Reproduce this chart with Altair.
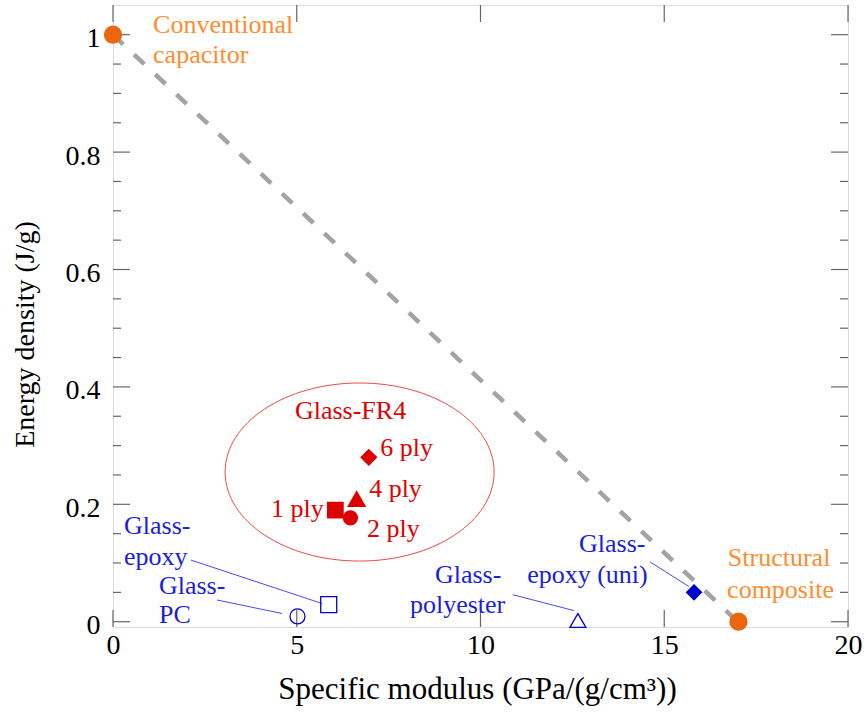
import altair as alt
import pandas as pd

# ---------------- data ----------------
x_ticks = [0, 5, 10, 15, 20]
y_major = [0, 0.2, 0.4, 0.6, 0.8, 1.0]
y_minor = [0.05, 0.1, 0.15, 0.25, 0.3, 0.35, 0.45, 0.5, 0.55, 0.65, 0.7, 0.75, 0.85, 0.9, 0.95]

pt_names = ["Conventional capacitor", "Structural composite",
            "FR4 1 ply", "FR4 2 ply", "FR4 4 ply", "FR4 6 ply",
            "Glass-epoxy", "Glass-PC", "Glass-polyester", "Glass-epoxy (uni)"]
pt_x = [0.0, 17.02, 6.05, 6.46, 6.63, 6.96, 5.87, 5.02, 12.65, 15.81]
pt_y = [1.0, 0.0, 0.19, 0.177, 0.209, 0.28, 0.029, 0.009, 0.002, 0.05]

trend_x = [0.0, 17.0]
trend_y = [1.0, 0.0]

# FR4 group ellipse centre
ell_x = [6.71]
ell_y = [0.255]

# leader lines (from label to marker)
lead_x1 = [2.12, 2.83, 10.88, 14.61]
lead_y1 = [0.105, 0.037, 0.046, 0.102]
lead_x2 = [5.69, 4.60, 12.54, 15.67]
lead_y2 = [0.031, 0.014, 0.019, 0.060]

lab_text = ["Conventional", "capacitor", "Structural", "composite",
            "Glass-FR4", "6 ply", "4 ply", "1 ply", "2 ply",
            "Glass-", "epoxy", "Glass-", "PC",
            "Glass-", "polyester", "Glass-", "epoxy (uni)"]
lab_x = [1.09, 1.09, 16.73, 16.71,
         4.95, 7.27, 6.97, 4.30, 6.91,
         0.30, 0.30, 1.25, 1.25,
         8.76, 8.08, 12.68, 11.27]
lab_y = [1.003, 0.952, 0.095, 0.041,
         0.346, 0.283, 0.213, 0.179, 0.145,
         0.150, 0.097, 0.048, -0.003,
         0.066, 0.015, 0.119, 0.066]
lab_group = ["orange", "orange", "orange", "orange",
             "red", "red", "red", "red", "red",
             "blue", "blue", "blue", "blue",
             "blue", "blue", "blue", "blue"]

# ---------------- styles ----------------
ORANGE_PT = "#EC6510"
ORANGE_TX = "#FF8C2E"
RED = "#DD0000"
RED_TX = "#E00000"
BLUE = "#0000CC"
BLUE_TX = "#1C1CDC"
FONT = "Liberation Serif"

style = {
    "Conventional capacitor": ("circle", ORANGE_PT, ORANGE_PT, 289),
    "Structural composite": ("circle", ORANGE_PT, ORANGE_PT, 289),
    "FR4 1 ply": ("square", RED, RED, 240),
    "FR4 2 ply": ("circle", RED, RED, 196),
    "FR4 4 ply": ("triangle-up", RED, RED, 289),
    "FR4 6 ply": ("diamond", RED, RED, 240),
    "Glass-epoxy": ("square", "transparent", BLUE, 256),
    "Glass-PC": ("circle", "transparent", BLUE, 225),
    "Glass-polyester": ("triangle-up", "transparent", BLUE, 256),
    "Glass-epoxy (uni)": ("diamond", BLUE, BLUE, 225),
}
text_color = {"orange": ORANGE_TX, "red": RED_TX, "blue": BLUE_TX}

pts = pd.DataFrame({"name": pt_names, "x": pt_x, "y": pt_y})
pts["shape"] = [style[n][0] for n in pt_names]
pts["fill"] = [style[n][1] for n in pt_names]
pts["stroke"] = [style[n][2] for n in pt_names]
pts["size"] = [style[n][3] for n in pt_names]

trend = pd.DataFrame({"x": trend_x, "y": trend_y})
ell = pd.DataFrame({"x": ell_x, "y": ell_y})
leads = pd.DataFrame({"x": lead_x1, "y": lead_y1, "x2": lead_x2, "y2": lead_y2})
labs = pd.DataFrame({"text": lab_text, "x": lab_x, "y": lab_y,
                     "color": [text_color[g] for g in lab_group]})

W, H = 735, 622
xs = alt.Scale(domain=[0, 20], nice=False, zero=False)
ys = alt.Scale(domain=[-0.009, 1.0506], nice=False, zero=False)

x_axis = alt.Axis(values=x_ticks, ticks=False, domain=False, grid=False,
                  labelFont=FONT, labelFontSize=28, labelColor="black",
                  labelPadding=4, labelFlush=False, labelOverlap=False,
                  title="Specific modulus (GPa/(g/cm³))", titleFont=FONT,
                  titleFontSize=31, titleFontWeight="normal", titleColor="black",
                  titleX=364, titleY=71, titleBaseline="alphabetic")
y_axis = alt.Axis(values=y_major, format="~g", ticks=False, domain=False, grid=False,
                  labelFont=FONT, labelFontSize=28, labelColor="black",
                  labelPadding=13, labelOffset=4, labelOverlap=False, labelFlush=False,
                  title="Energy density (J/g)", titleFont=FONT,
                  titleFontSize=28, titleFontWeight="normal", titleColor="black",
                  titleX=-80, titleY=329, titleBaseline="alphabetic", titleAngle=270)

X = alt.X("x:Q", scale=xs, axis=x_axis)
Y = alt.Y("y:Q", scale=ys, axis=y_axis)

TICK = "#666666"
ymaj = pd.DataFrame({"y": y_major})
ymin = pd.DataFrame({"y": y_minor})
xt = pd.DataFrame({"x": x_ticks})

tick_layers = [
    alt.Chart(ymaj).mark_rule(color=TICK, strokeWidth=1.2).encode(
        y=alt.Y("y:Q", scale=ys), x=alt.value(0), x2=alt.value(17)),
    alt.Chart(ymaj).mark_rule(color=TICK, strokeWidth=1.2).encode(
        y=alt.Y("y:Q", scale=ys), x=alt.value(W - 17), x2=alt.value(W)),
    alt.Chart(ymin).mark_rule(color=TICK, strokeWidth=1.2).encode(
        y=alt.Y("y:Q", scale=ys), x=alt.value(0), x2=alt.value(8)),
    alt.Chart(ymin).mark_rule(color=TICK, strokeWidth=1.2).encode(
        y=alt.Y("y:Q", scale=ys), x=alt.value(W - 8), x2=alt.value(W)),
    alt.Chart(xt).mark_rule(color=TICK, strokeWidth=1.2).encode(
        x=alt.X("x:Q", scale=xs), y=alt.value(H - 17), y2=alt.value(H)),
    alt.Chart(xt).mark_rule(color=TICK, strokeWidth=1.2).encode(
        x=alt.X("x:Q", scale=xs), y=alt.value(0), y2=alt.value(17)),
]

base_axes = alt.Chart(pts).mark_point(opacity=0).encode(x=X, y=Y)

trend_line = alt.Chart(trend).mark_line(
    color="#A3A3A3", strokeWidth=4.5, strokeDash=[14, 15]
).encode(x=alt.X("x:Q", scale=xs), y=alt.Y("y:Q", scale=ys))

ELLIPSE = ("M -1 0 C -1 -0.366 -0.552 -0.662 0 -0.662 "
           "C 0.552 -0.662 1 -0.366 1 0 "
           "C 1 0.366 0.552 0.662 0 0.662 "
           "C -0.552 0.662 -1 0.366 -1 0 Z")
ellipse = alt.Chart(ell).mark_point(
    shape=ELLIPSE, size=269 * 269, filled=False, stroke="#F04848",
    strokeWidth=1, opacity=1
).encode(x=alt.X("x:Q", scale=xs), y=alt.Y("y:Q", scale=ys))

leader = alt.Chart(leads).mark_rule(color="#4848F0", strokeWidth=1).encode(
    x=alt.X("x:Q", scale=xs), y=alt.Y("y:Q", scale=ys), x2="x2:Q", y2="y2:Q")

markers = alt.Chart(pts).mark_point(opacity=1, strokeWidth=1.3).encode(
    x=alt.X("x:Q", scale=xs), y=alt.Y("y:Q", scale=ys),
    shape=alt.Shape("shape:N", scale=None),
    fill=alt.Fill("fill:N", scale=None),
    stroke=alt.Stroke("stroke:N", scale=None),
    size=alt.Size("size:Q", scale=None),
)

labels = alt.Chart(labs).mark_text(
    font=FONT, fontSize=26, align="left", baseline="alphabetic"
).encode(x=alt.X("x:Q", scale=xs), y=alt.Y("y:Q", scale=ys),
         text="text:N", color=alt.Color("color:N", scale=None))

chart = alt.layer(
    base_axes, *tick_layers, trend_line, ellipse, leader, markers, labels
).properties(
    width=W, height=H,
    autosize=alt.AutoSizeParams(type="none"),
    padding={"left": 113, "top": 5, "right": 18, "bottom": 88},
).configure_view(
    stroke="#666666", strokeWidth=1.5
).configure(background="white")

chart.save("out.html", embed_options={"renderer": "svg", "actions": False})
